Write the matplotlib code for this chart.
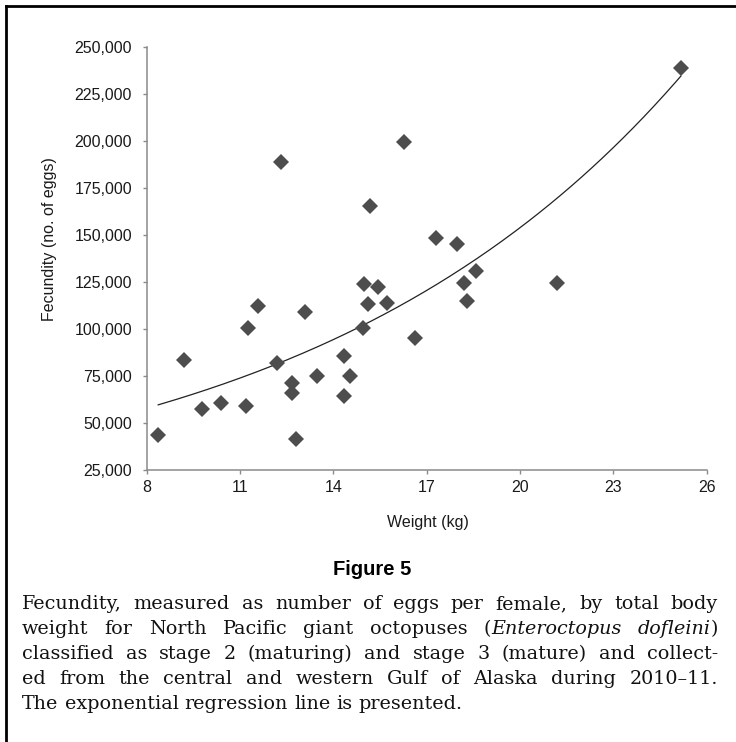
import numpy as np
import matplotlib
matplotlib.use('Agg')
import matplotlib.pyplot as plt
from matplotlib.lines import Line2D
from matplotlib.ticker import StrMethodFormatter


# body weight (kg) and fecundity (no. of eggs)
weight_kg = [8.37, 9.21, 9.79, 10.38, 11.20, 11.27, 11.57, 12.20, 12.32,
             12.66, 12.66, 12.80, 13.08, 13.47, 14.33, 14.35, 14.53, 14.94,
             14.98, 15.12, 15.19, 15.44, 15.73, 16.28, 16.62, 17.30, 17.97,
             18.21, 18.29, 18.58, 21.18, 25.17]
eggs = [43600, 83500, 57450, 60480, 59200, 100370, 112400, 81750, 188830,
        71100, 65800, 41500, 109200, 74850, 85800, 64500, 75200, 100700,
        123940, 113100, 165430, 122200, 113990, 199630, 95060, 148400,
        145200, 124470, 115050, 130850, 124300, 239000]

x_ticks = [8, 11, 14, 17, 20, 23, 26]
y_ticks = [25000, 50000, 75000, 100000, 125000, 150000, 175000, 200000,
           225000, 250000]

fig_title = 'Figure 5'
caption_lines = [
    'Fecundity, measured as number of eggs per female, by total body',
    'weight for North Pacific giant octopuses (_Enteroctopus_ _dofleini_)',
    'classified as stage 2 (maturing) and stage 3 (mature) and collect-',
    'ed from the central and western Gulf of Alaska during 2010\u201311.',
    'The exponential regression line is presented.',
]

W, H = 736, 742
plt.rcParams['font.family'] = ['Liberation Sans', 'DejaVu Sans']

fig = plt.figure(figsize=(W / 100, H / 100), dpi=100)
ax = fig.add_axes([146.7 / W, 1 - 470 / H, 560 / W, 423 / H])

ax.plot(weight_kg, eggs, linestyle='none', marker='D', markersize=8.1,
        color='#4d4d4d', markeredgewidth=0, zorder=3)

# exponential trendline, fitted on log(y) the way a spreadsheet does it
b, ln_a = np.polyfit(weight_kg, np.log(eggs), 1)
xs = np.linspace(min(weight_kg), max(weight_kg), 200)
ax.plot(xs, np.exp(ln_a + b * xs), color='#222222', lw=0.9, zorder=2)

ax.set_xlim(8, 26)
ax.set_ylim(25000, 250000)
ax.set_xticks(x_ticks)
ax.set_yticks(y_ticks)
ax.yaxis.set_major_formatter(StrMethodFormatter('{x:,.0f}'))

for side in ('top', 'right'):
    ax.spines[side].set_visible(False)
for side in ('left', 'bottom'):
    ax.spines[side].set_color('#8a8a8a')
    ax.spines[side].set_linewidth(1.1)
ax.tick_params(direction='out', length=3, width=1, color='#8a8a8a',
               labelsize=11.5, labelcolor='#1a1a1a')
ax.tick_params(axis='y', pad=7.5)
ax.tick_params(axis='x', pad=4.5)

fig.text(50 / W, 1 - 239 / H, 'Fecundity (no. of eggs)', rotation=90,
         ha='center', va='center', fontsize=11.5, color='#1a1a1a')
fig.text(428 / W, 1 - 522 / H, 'Weight (kg)', ha='center', va='center',
         fontsize=11.5, color='#1a1a1a')

fig.text(372 / W, 1 - 575 / H, fig_title, ha='center', va='baseline',
         fontsize=14.5, fontweight='bold', color='black')

# page frame (left and top rules)
fig.add_artist(Line2D([6 / W, 6 / W], [0, 1 - 6 / H], color='black', lw=2,
                      transform=fig.transFigure))
fig.add_artist(Line2D([6 / W, 1], [1 - 6 / H, 1 - 6 / H], color='black',
                      lw=2, transform=fig.transFigure))

# justified caption
cap_kw = dict(family='DejaVu Serif', fontsize=12.3, color='#111111',
              va='baseline', ha='left')
x_left, x_right = 22, 718
baseline0, line_step = 609, 25

fig.canvas.draw()
renderer = fig.canvas.get_renderer()


def word_parts(token):
    parts = token.split('_')
    return [(p, 'italic' if i % 2 else 'normal') for i, p in enumerate(parts)
            if p]


def text_width(s, style):
    t = fig.text(0, 0, s, style=style, **cap_kw)
    w = t.get_window_extent(renderer).width
    t.remove()
    return w


# size the caption so its first line nearly fills the measure
natural = text_width(caption_lines[0], 'normal')
cap_kw['fontsize'] = cap_kw['fontsize'] * (x_right - x_left) * 0.92 / natural

for i, line in enumerate(caption_lines):
    y = 1 - (baseline0 + i * line_step) / H
    words = [word_parts(tok) for tok in line.split(' ')]
    widths = [[text_width(s, st) for s, st in w] for w in words]
    last = i == len(caption_lines) - 1
    if last:
        gap = text_width('a a', 'normal') - text_width('aa', 'normal')
    else:
        total = sum(sum(w) for w in widths)
        gap = (x_right - x_left - total) / (len(words) - 1)
    x = x_left
    for w, ws in zip(words, widths):
        for (s, st), sw in zip(w, ws):
            fig.text(x / W, y, s, style=st, **cap_kw)
            x += sw
        x += gap

fig.savefig('out.png', dpi=100)
